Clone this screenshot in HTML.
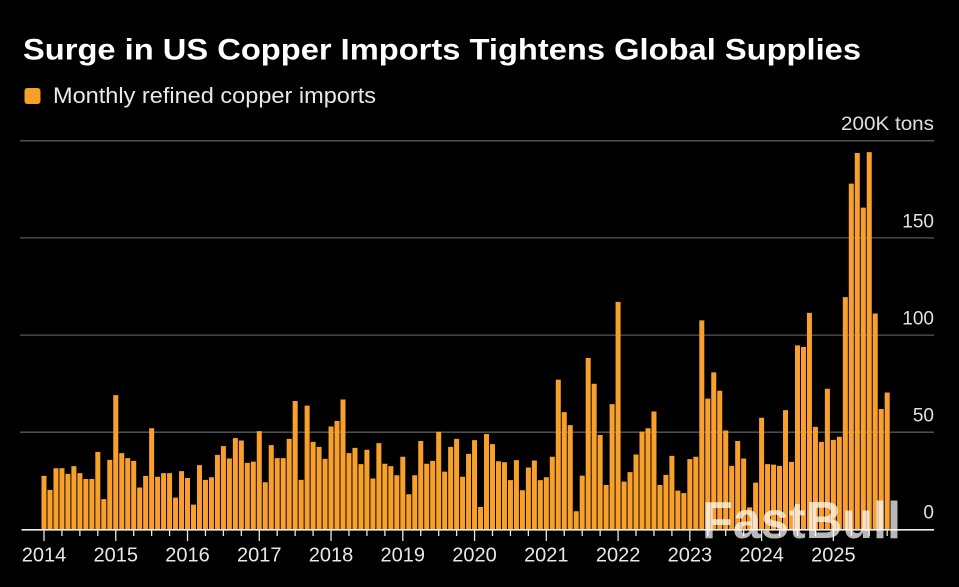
<!DOCTYPE html>
<html><head><meta charset="utf-8"><style>
html,body{margin:0;padding:0;background:#000;}
svg{display:block;}
</style></head><body>
<svg width="959" height="587" viewBox="0 0 959 587" xmlns="http://www.w3.org/2000/svg">
<rect width="959" height="587" fill="#000"/>
<text x="23" y="59.5" font-family="Liberation Sans, DejaVu Sans, sans-serif" font-weight="bold" font-size="30" fill="#fff" textLength="838" lengthAdjust="spacingAndGlyphs">Surge in US Copper Imports Tightens Global Supplies</text>
<rect x="24.5" y="88" width="16" height="16" rx="3" fill="#f7a02c"/>
<text x="53" y="103" font-family="Liberation Sans, DejaVu Sans, sans-serif" font-size="22" fill="#e8e8e8" textLength="323" lengthAdjust="spacingAndGlyphs">Monthly refined copper imports</text>
<path d="M20 140.8H934M20 237.9H934M20 335.1H934M20 432.2H934" stroke="#595959" stroke-width="1.3" fill="none"/>
<g font-family="Liberation Sans, DejaVu Sans, sans-serif" font-size="19" fill="#e0e0e0" text-anchor="end">
<text x="934" y="130" textLength="93" lengthAdjust="spacingAndGlyphs">200K tons</text>
<text x="934" y="227.3">150</text>
<text x="934" y="324.7">100</text>
<text x="934" y="421.7">50</text>
<text x="934" y="518.5">0</text>
</g>
<g transform="translate(44,529.3) scale(5.98,-1.944)">
<path fill="#f7a02c" d="M-0.42 0h.84v27.5h-.84z
m1 0h.84v20.3h-.84z m1 0h.84v31.4h-.84z m1 0h.84v31.4h-.84z m1 0h.84v28.5h-.84z
m1 0h.84v32.5h-.84z m1 0h.84v28.9h-.84z m1 0h.84v25.9h-.84z m1 0h.84v25.9h-.84z
m1 0h.84v39.8h-.84z m1 0h.84v15.5h-.84z m1 0h.84v35.7h-.84z m1 0h.84v69h-.84z
m1 0h.84v39.2h-.84z m1 0h.84v36.6h-.84z m1 0h.84v35.2h-.84z m1 0h.84v21.5h-.84z
m1 0h.84v27.5h-.84z m1 0h.84v52h-.84z m1 0h.84v27h-.84z m1 0h.84v28.9h-.84z
m1 0h.84v28.9h-.84z m1 0h.84v16.3h-.84z m1 0h.84v29.9h-.84z m1 0h.84v26.4h-.84z
m1 0h.84v12.7h-.84z m1 0h.84v33h-.84z m1 0h.84v25.4h-.84z m1 0h.84v26.8h-.84z
m1 0h.84v38.3h-.84z m1 0h.84v42.8h-.84z m1 0h.84v36.4h-.84z m1 0h.84v46.9h-.84z
m1 0h.84v45.7h-.84z m1 0h.84v34.2h-.84z m1 0h.84v34.8h-.84z m1 0h.84v50.5h-.84z
m1 0h.84v24.2h-.84z m1 0h.84v43.3h-.84z m1 0h.84v36.6h-.84z m1 0h.84v36.6h-.84z
m1 0h.84v46.5h-.84z m1 0h.84v66h-.84z m1 0h.84v25.4h-.84z m1 0h.84v63.6h-.84z
m1 0h.84v45h-.84z m1 0h.84v42.4h-.84z m1 0h.84v36.2h-.84z m1 0h.84v52.9h-.84z
m1 0h.84v55.7h-.84z m1 0h.84v66.8h-.84z m1 0h.84v39.2h-.84z m1 0h.84v41.9h-.84z
m1 0h.84v33.5h-.84z m1 0h.84v40.9h-.84z m1 0h.84v26.1h-.84z m1 0h.84v44.3h-.84z
m1 0h.84v33.7h-.84z m1 0h.84v32.5h-.84z m1 0h.84v27.8h-.84z m1 0h.84v37.3h-.84z
m1 0h.84v18h-.84z m1 0h.84v27.8h-.84z m1 0h.84v45.4h-.84z m1 0h.84v33.7h-.84z
m1 0h.84v35.2h-.84z m1 0h.84v50.2h-.84z m1 0h.84v29.7h-.84z m1 0h.84v42.4h-.84z
m1 0h.84v46.5h-.84z m1 0h.84v27h-.84z m1 0h.84v38.8h-.84z m1 0h.84v45.9h-.84z
m1 0h.84v11.5h-.84z m1 0h.84v49h-.84z m1 0h.84v43.8h-.84z m1 0h.84v35h-.84z
m1 0h.84v34.5h-.84z m1 0h.84v25.3h-.84z m1 0h.84v35.6h-.84z m1 0h.84v20.1h-.84z
m1 0h.84v31.8h-.84z m1 0h.84v35.4h-.84z m1 0h.84v25.3h-.84z m1 0h.84v26.8h-.84z
m1 0h.84v37.3h-.84z m1 0h.84v77h-.84z m1 0h.84v60.3h-.84z m1 0h.84v53.6h-.84z
m1 0h.84v9.3h-.84z m1 0h.84v27.6h-.84z m1 0h.84v88.1h-.84z m1 0h.84v74.9h-.84z
m1 0h.84v48.5h-.84z m1 0h.84v22.8h-.84z m1 0h.84v64.4h-.84z m1 0h.84v117h-.84z
m1 0h.84v24.5h-.84z m1 0h.84v29.4h-.84z m1 0h.84v38.5h-.84z m1 0h.84v50.3h-.84z
m1 0h.84v52h-.84z m1 0h.84v60.6h-.84z m1 0h.84v22.8h-.84z m1 0h.84v28h-.84z
m1 0h.84v37.8h-.84z m1 0h.84v19.9h-.84z m1 0h.84v18.6h-.84z m1 0h.84v36.1h-.84z
m1 0h.84v37.3h-.84z m1 0h.84v107.5h-.84z m1 0h.84v67.2h-.84z m1 0h.84v80.7h-.84z
m1 0h.84v71.3h-.84z m1 0h.84v50.8h-.84z m1 0h.84v32.6h-.84z m1 0h.84v45.4h-.84z
m1 0h.84v36.4h-.84z m1 0h.84v11.3h-.84z m1 0h.84v24h-.84z m1 0h.84v57.4h-.84z
m1 0h.84v33.5h-.84z m1 0h.84v33.3h-.84z m1 0h.84v32.6h-.84z m1 0h.84v61.3h-.84z
m1 0h.84v34.7h-.84z m1 0h.84v94.6h-.84z m1 0h.84v93.8h-.84z m1 0h.84v111.3h-.84z
m1 0h.84v52.7h-.84z m1 0h.84v45h-.84z m1 0h.84v72.3h-.84z m1 0h.84v46h-.84z
m1 0h.84v47.6h-.84z m1 0h.84v119.4h-.84z m1 0h.84v177.8h-.84z m1 0h.84v193.6h-.84z
m1 0h.84v165.5h-.84z m1 0h.84v194h-.84z m1 0h.84v111h-.84z m1 0h.84v61.9h-.84z
m1 0h.84v70.4h-.84z"/>
</g>
<line x1="21.5" y1="529.8" x2="934" y2="529.8" stroke="#ececec" stroke-width="1.6"/>
<path fill="none" stroke="#e6e6e6" stroke-width="1.3" d="M44 530v11
m17.94-11v6 m17.94-6v6 m17.94-6v6 m17.94-6v11
m17.94-11v6 m17.94-6v6 m17.94-6v6 m17.94-6v11
m17.94-11v6 m17.94-6v6 m17.94-6v6 m17.94-6v11
m17.94-11v6 m17.94-6v6 m17.94-6v6 m17.94-6v11
m17.94-11v6 m17.94-6v6 m17.94-6v6 m17.94-6v11
m17.94-11v6 m17.94-6v6 m17.94-6v6 m17.94-6v11
m17.94-11v6 m17.94-6v6 m17.94-6v6 m17.94-6v11
m17.94-11v6 m17.94-6v6 m17.94-6v6 m17.94-6v11
m17.94-11v6 m17.94-6v6 m17.94-6v6 m17.94-6v11
m17.94-11v6 m17.94-6v6 m17.94-6v6 m17.94-6v11
m17.94-11v6 m17.94-6v6 m17.94-6v6 m17.94-6v11
m17.94-11v6 m17.94-6v6 m17.94-6v6"/>
<g font-family="Liberation Sans, DejaVu Sans, sans-serif" font-size="20" fill="#e8e8e8" text-anchor="middle">
<text x="44" y="561.7">2014</text>
<text x="115.76" y="561.7">2015</text>
<text x="187.52" y="561.7">2016</text>
<text x="259.28" y="561.7">2017</text>
<text x="331.04" y="561.7">2018</text>
<text x="402.8" y="561.7">2019</text>
<text x="474.56" y="561.7">2020</text>
<text x="546.32" y="561.7">2021</text>
<text x="618.08" y="561.7">2022</text>
<text x="689.84" y="561.7">2023</text>
<text x="761.6" y="561.7">2024</text>
<text x="833.36" y="561.7">2025</text>
</g>
<text x="702" y="538" font-family="Liberation Sans, DejaVu Sans, sans-serif" font-weight="bold" font-size="52" fill="#ffffff" fill-opacity="0.72" textLength="199" lengthAdjust="spacingAndGlyphs">FastBull</text>
</svg>
</body></html>
